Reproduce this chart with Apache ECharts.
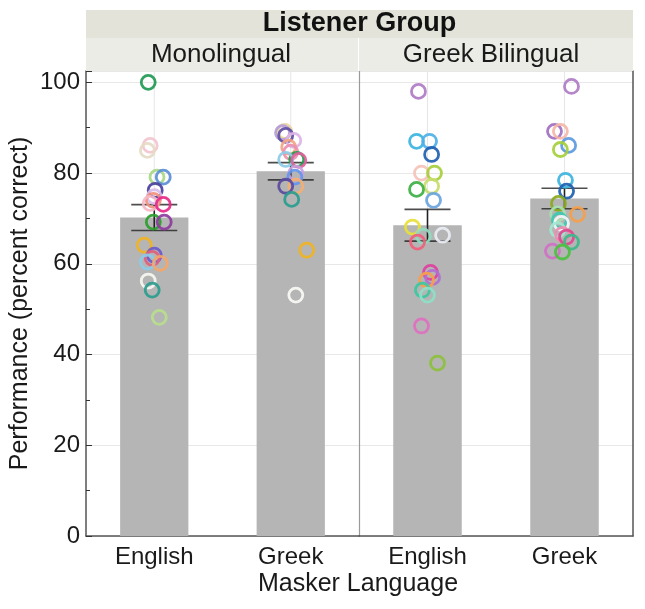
<!DOCTYPE html>
<html>
<head>
<meta charset="utf-8">
<script src="https://cdn.jsdelivr.net/npm/echarts@6/dist/echarts.min.js"></script>
<style>
  html, body { margin: 0; padding: 0; background: #fff; }
  #chart { width: 645px; height: 609px; }
</style>
</head>
<body>
<div id="chart"></div>
<script>
// categories
const maskers = ['English', 'Greek']
const groups = ['Monolingual', 'Greek Bilingual']
const yTicks = [0, 20, 40, 60, 80, 100]

// bar means and standard errors (percent correct)
const monoMeans = [70.2, 80.4]
const monoSE = [2.85, 1.9]
const biMeans = [68.5, 74.4]
const biSE = [3.5, 2.25]

// individual listeners, Monolingual / English masker
const monoEngScores = [100, 86.1, 85.0, 79.1, 79.1, 76.2, 74.8, 74.0, 73.3, 73.1, 69.2, 69.2, 64.1, 61.9, 61.2, 60.4, 60.1, 56.2, 54.2, 48.2]
const monoEngJitter = [-0.044, -0.03, -0.05, 0.02, 0.066, 0.007, 0.0, -0.007, -0.03, 0.066, -0.007, 0.073, -0.073, 0.0, -0.015, -0.05, 0.044, -0.044, -0.015, 0.037]
const monoEngColors = ['#1f9a55', '#f2c6cf', '#e5dbc4', '#a8d888', '#5b8fd6', '#4b3fa0', '#d9bde9', '#f2907e', '#f5b9c9', '#e7298a', '#2ca02c', '#8e3a9e', '#f0b323', '#6a5acd', '#e0607e', '#8ccbe8', '#f5a66a', '#f8f8f2', '#2a9d8f', '#b8e08c']

// Monolingual / Greek masker
const monoGrkScores = [89.2, 88.9, 88.3, 87.2, 85.7, 84.6, 83.0, 83.0, 82.8, 80.0, 79.1, 77.1, 77.1, 74.2, 63.0, 53.1]
const monoGrkJitter = [-0.044, -0.06, -0.037, 0.022, -0.015, 0.0, 0.044, -0.037, 0.059, 0.037, 0.03, 0.037, -0.037, 0.007, 0.117, 0.037]
const monoGrkColors = ['#e8d5a0', '#b59bd9', '#5e4fa2', '#dcb4e6', '#f4a582', '#ee8fb0', '#1b9e4b', '#8ecae6', '#e0609a', '#c9a0dc', '#6495ed', '#f5b070', '#5b4a9e', '#2a9d8f', '#f0b323', '#fafaf5']

// Greek Bilingual / English masker
const biEngScores = [98.0, 87.0, 87.0, 84.1, 80.0, 80.0, 77.1, 76.4, 74.0, 68.1, 66.3, 66.1, 64.8, 58.1, 57.0, 56.4, 54.2, 53.1, 46.3, 38.1]
const biEngJitter = [-0.066, -0.08, 0.015, 0.03, -0.044, 0.051, 0.03, -0.08, 0.044, -0.11, 0.11, -0.03, -0.073, 0.022, 0.037, -0.007, -0.037, 0.0, -0.044, 0.073]
const biEngColors = ['#b07cc6', '#3bb4e0', '#4fb0e8', '#1f5fb0', '#f4c2b8', '#a6cf3c', '#c8dc6e', '#3cb043', '#6aa5e0', '#e8e03a', '#eceef5', '#8fdcc0', '#f0607a', '#e040a0', '#b070d0', '#f7a04a', '#3cc8a0', '#8fe0c8', '#e070c0', '#8cc03c']

// Greek Bilingual / Greek masker
const biGrkScores = [99.1, 89.2, 89.2, 86.1, 85.2, 78.4, 76.0, 73.3, 71.0, 70.9, 69.6, 68.9, 67.5, 66.5, 65.9, 64.8, 62.8, 62.6]
const biGrkJitter = [0.051, -0.073, -0.03, 0.03, -0.03, 0.007, 0.015, -0.044, -0.05, 0.095, -0.037, -0.022, -0.05, -0.015, 0.015, 0.051, -0.088, -0.015]
const biGrkColors = ['#b07cc6', '#a070c0', '#f4b6a8', '#5b9ae0', '#a6cf3c', '#3bb4e0', '#1f5fb0', '#8aaa20', '#a8e0b0', '#f7a04a', '#3cc8b0', '#f5f5fa', '#a0e8d0', '#f08cb0', '#e04890', '#3cb88a', '#d070c8', '#4cc040']

const Y_MAX = 102.5
const FONT = '"Liberation Sans", Arial, Helvetica, sans-serif'

// 把散点数据拼起来：x = 类目序号 + 抖动
function points(catIdx, scores, jitter, colors) {
  return scores.map((v, i) => ({
    value: [catIdx + jitter[i], v],
    itemStyle: { borderColor: colors[i] },
  }))
}

// 每个类目一段竖线：[cat, from] -> [cat, to]，中间用 '-' 断开
function segments(from, to) {
  const out = []
  maskers.forEach((m, i) => {
    out.push([m, from[i]], [m, to[i]], [m, '-'])
  })
  return out
}

// 误差线横帽的位置
function caps(means, se) {
  const out = []
  maskers.forEach((m, i) => {
    out.push([m, means[i] - se[i]], [m, means[i] + se[i]])
  })
  return out
}

function catAxis(gridIndex) {
  return {
    type: 'category',
    gridIndex,
    data: maskers,
    axisLine: { show: true, onZero: false, lineStyle: { color: '#555', width: 1.5 } },
    axisTick: { show: false },
    splitLine: { show: false },
    axisLabel: { color: '#1a1a1a', fontSize: 24, fontFamily: FONT, margin: 9 },
  }
}

// 散点用的隐藏数值轴（不参与 y 轴的 onZero 定位）
function jitterAxis(gridIndex) {
  return { type: 'value', gridIndex, min: -0.5, max: 1.5, show: false, axisLine: { onZero: false } }
}

const yBase = {
  type: 'value',
  min: 0,
  max: Y_MAX,
  interval: 20,
  splitLine: { show: true, lineStyle: { color: '#e8e8e8', width: 1 } },
}

const scatterStyle = { color: 'rgba(0,0,0,0)', borderWidth: 2.8, opacity: 0.92 }

function panelSeries(gi, means, se, scatterData) {
  const top = means.map(() => Y_MAX)
  const lo = means.map((m, i) => m - se[i])
  const hi = means.map((m, i) => m + se[i])
  return [
    {
      // 竖向网格线（柱子上方）
      type: 'line', xAxisIndex: gi, yAxisIndex: gi, z: 1, silent: true,
      symbol: 'none', connectNulls: false,
      lineStyle: { color: '#e6e6e6', width: 1 },
      data: segments(means, top),
    },
    {
      type: 'bar', name: groups[gi], xAxisIndex: gi, yAxisIndex: gi, z: 2,
      barWidth: '50%', itemStyle: { color: '#b5b5b5' }, data: means,
    },
    {
      // 误差线竖线
      type: 'line', xAxisIndex: gi, yAxisIndex: gi, z: 3, silent: true,
      symbol: 'none', connectNulls: false,
      lineStyle: { color: '#222', width: 1.6 },
      data: segments(lo, hi),
    },
    {
      // 误差线横帽
      type: 'scatter', xAxisIndex: gi, yAxisIndex: gi, z: 3, silent: true,
      symbol: 'rect', symbolSize: [46, 1.6],
      itemStyle: { color: '#222' },
      data: caps(means, se),
    },
    {
      type: 'scatter', xAxisIndex: gi + 2, yAxisIndex: gi, z: 4,
      symbol: 'circle', symbolSize: 14, itemStyle: scatterStyle,
      data: scatterData,
    },
  ]
}

const option = {
  backgroundColor: '#fff',
  animation: false,
  grid: [
    { left: 86, top: 71, width: 273, height: 465 },
    { left: 359, top: 71, width: 274, height: 465 },
  ],
  xAxis: [catAxis(0), catAxis(1), jitterAxis(0), jitterAxis(1)],
  yAxis: [
    {
      ...yBase,
      gridIndex: 0,
      axisLine: { show: true, onZero: false, lineStyle: { color: '#555', width: 1.5 } },
      axisTick: { show: true, inside: true, length: 6, lineStyle: { color: '#333' } },
      minorTick: { show: true, splitNumber: 2, length: 4, lineStyle: { color: '#333' } },
      axisLabel: {
        color: '#1a1a1a',
        fontSize: 24,
        fontFamily: FONT,
        margin: 6,
        formatter: (v) => (yTicks.includes(v) ? String(v) : ''),
      },
      name: 'Performance (percent correct)',
      nameLocation: 'middle',
      nameGap: 53,
      nameTextStyle: { color: '#1a1a1a', fontSize: 25, fontFamily: FONT },
    },
    {
      ...yBase,
      gridIndex: 1,
      axisLine: { show: true, onZero: false, lineStyle: { color: '#9a9a9a', width: 1.2 } },
      axisTick: { show: false },
      axisLabel: { show: false },
    },
    {
      ...yBase,
      gridIndex: 1,
      position: 'right',
      splitLine: { show: false },
      axisLine: { show: true, onZero: false, lineStyle: { color: '#555', width: 1.5 } },
      axisTick: { show: false },
      axisLabel: { show: false },
    },
  ],
  series: [
    ...panelSeries(0, monoMeans, monoSE,
      points(0, monoEngScores, monoEngJitter, monoEngColors)
        .concat(points(1, monoGrkScores, monoGrkJitter, monoGrkColors))),
    ...panelSeries(1, biMeans, biSE,
      points(0, biEngScores, biEngJitter, biEngColors)
        .concat(points(1, biGrkScores, biGrkJitter, biGrkColors))),
  ],
  graphic: [
    // 分面标题条
    { type: 'rect', left: 86, top: 10, shape: { width: 547, height: 28 }, style: { fill: '#e3e3da' }, z: 10 },
    { type: 'rect', left: 86, top: 38, shape: { width: 272, height: 33 }, style: { fill: '#ecece6' }, z: 10 },
    { type: 'rect', left: 359, top: 38, shape: { width: 274, height: 33 }, style: { fill: '#ecece6' }, z: 10 },
    {
      type: 'text', x: 359.5, y: 24, z: 11,
      style: { text: 'Listener Group', fill: '#111', font: 'bold 27px ' + FONT, textAlign: 'center', textVerticalAlign: 'middle' },
    },
    {
      type: 'text', x: 221, y: 55, z: 11,
      style: { text: groups[0], fill: '#1a1a1a', font: '26px ' + FONT, textAlign: 'center', textVerticalAlign: 'middle' },
    },
    {
      type: 'text', x: 491, y: 55, z: 11,
      style: { text: groups[1], fill: '#1a1a1a', font: '26px ' + FONT, textAlign: 'center', textVerticalAlign: 'middle' },
    },
    {
      type: 'text', x: 358, y: 584, z: 11,
      style: { text: 'Masker Language', fill: '#1a1a1a', font: '25px ' + FONT, textAlign: 'center', textVerticalAlign: 'middle' },
    },
  ],
}

const chart = echarts.init(document.getElementById('chart'), null, { renderer: 'canvas' })
chart.setOption(option)
</script>
</body>
</html>
